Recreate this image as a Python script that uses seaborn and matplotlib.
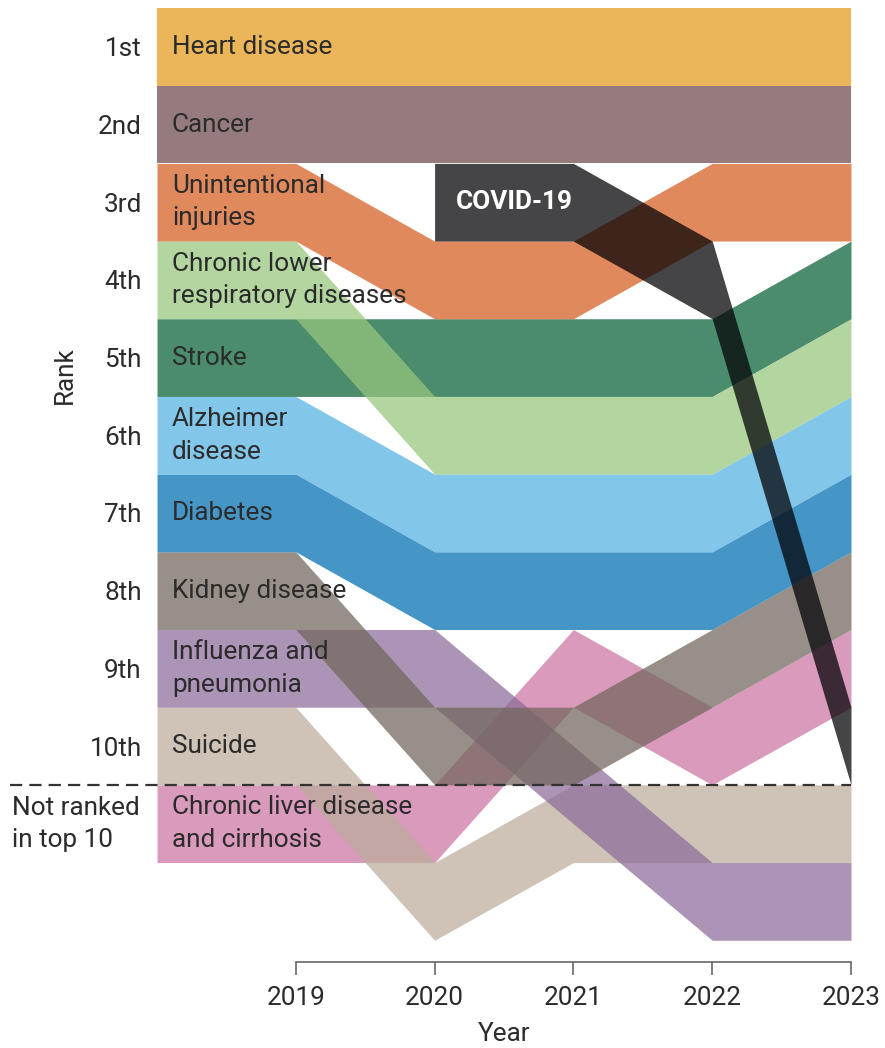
import matplotlib
matplotlib.use('Agg')
import matplotlib.pyplot as plt
import matplotlib.transforms as mtransforms
import matplotlib.colors as mcolors
import numpy as np
import seaborn as sns

# ranks per year, None = no point drawn for that year
years = [2019, 2020, 2021, 2022, 2023]

heart = [1, 1, 1, 1, 1]
cancer = [2, 2, 2, 2, 2]
injuries = [3, 4, 4, 3, 3]
clrd = [4, 6, 6, 6, 5]
stroke = [5, 5, 5, 5, 4]
alzheimer = [6, 7, 7, 7, 6]
diabetes = [7, 8, 8, 8, 7]
kidney = [8, 10, 10, 9, 8]
influenza = [9, 9, None, 12, 12]
suicide = [10, 12, 11, 11, 11]
liver = [11, 11, 9, 10, 9]
covid = [None, 3, 3, 4, 10]

labels = ['Heart disease', 'Cancer', 'Unintentional\ninjuries',
          'Chronic lower\nrespiratory diseases', 'Stroke', 'Alzheimer\ndisease',
          'Diabetes', 'Kidney disease', 'Influenza and\npneumonia', 'Suicide',
          'Chronic liver disease\nand cirrhosis']
series = [heart, cancer, injuries, clrd, stroke, alzheimer, diabetes,
          kidney, influenza, suicide, liver]
colors = ['#EBB65A', '#957A7E', '#E0895C', '#B3D6A1', '#4A8C6C', '#82C6EA',
          '#4496C6', '#989088', '#AC94B6', '#CEC3B7', '#D99ABC']
covid_color = '#434547'

rank_ticks = [1, 2, 3, 4, 5, 6, 7, 8, 9, 10]
rank_labels = ['1st', '2nd', '3rd', '4th', '5th', '6th', '7th', '8th', '9th', '10th']

sns.set_theme(style='white')
plt.rcParams['font.family'] = ['Liberation Sans Narrow', 'Roboto', 'DejaVu Sans']
txt = '#2b2b2b'
fs = 18.8
alpha = 0.73


def under_alpha(c):
    # colour that gives the observed tint over white at the given alpha
    rgb = np.array(mcolors.to_rgb(c))
    return tuple(np.clip((rgb - (1 - alpha)) / alpha, 0, 1))


def band(ax, r, color, lead):
    xs = [x for x, v in zip(years, r) if v is not None]
    vs = [v for v in r if v is not None]
    if lead:
        xs = [xs[0] - 1] + xs
        vs = [vs[0]] + vs
    vs = np.array(vs, dtype=float)
    ax.fill_between(xs, vs - 0.5, vs + 0.5, color=under_alpha(color),
                    alpha=alpha, linewidth=0)
    return xs[0], vs[0]


fig = plt.figure(figsize=(8.85, 10.48), dpi=100)
ax = fig.add_axes([157 / 885, 1 - 962 / 1048, 694 / 885, 954 / 1048])

label_pos = []
for i in reversed(range(len(series))):
    label_pos.append(band(ax, series[i], colors[i], True))
label_pos = label_pos[::-1]
cx, cy = band(ax, covid, covid_color, False)

for (x0, y0), lab in zip(label_pos, labels):
    ax.text(x0 + 0.108, y0, lab, ha='left', va='center', fontsize=fs,
            color=txt, linespacing=1.45)
ax.text(cx + 0.15, cy, 'COVID-19', ha='left', va='center', fontsize=fs,
        color='white', fontweight='bold')

ax.axhline(10.5, xmin=-0.212, xmax=1, color='#333333', lw=1.6,
           dashes=(5.5, 3.2), clip_on=False)
trans = mtransforms.blended_transform_factory(fig.transFigure, ax.transData)
ax.text(12 / 885, 11, 'Not ranked\nin top 10', transform=trans, ha='left',
        va='center', fontsize=fs, color=txt, linespacing=1.4)

ax.set_xlim(2018, 2023)
ax.set_ylim(12.78, 0.5)
ax.set_yticks(rank_ticks)
ax.set_yticklabels(rank_labels, fontsize=fs, color=txt)
ax.set_xticks(years)
ax.set_xticklabels([str(y) for y in years], fontsize=fs, color=txt)
ax.tick_params(axis='y', length=0, pad=11)
ax.tick_params(axis='x', length=9, width=1.2, color='#666666', pad=8,
               direction='out', bottom=True)
sns.despine(ax=ax, left=True)
ax.spines['bottom'].set_bounds(2019, 2023)
ax.spines['bottom'].set_color('#666666')
ax.spines['bottom'].set_linewidth(1.2)
ax.set_xlabel('Year', fontsize=fs, color=txt, labelpad=9)
fig.text(65 / 885, 1 - 375 / 1048, 'Rank', rotation=90, ha='center',
         va='center', fontsize=fs, color=txt)

fig.savefig('out.png', dpi=100)
